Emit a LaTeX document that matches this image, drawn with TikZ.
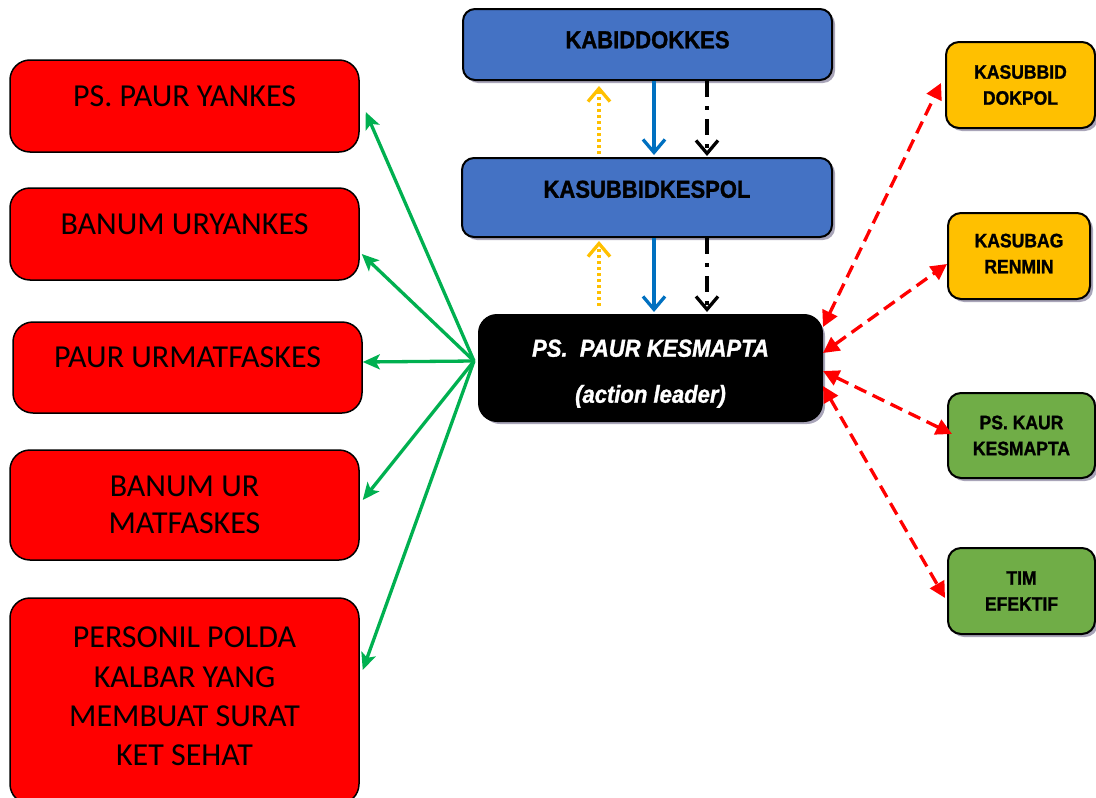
\documentclass[tikz,border=0pt]{standalone}
\usepackage{fontspec}
\setmainfont{Carlito}
\newfontfamily\arialn[FakeStretch=0.9,BoldFeatures={FakeBold=1.2},BoldItalicFeatures={FakeBold=1.2}]{Liberation Sans}
\usetikzlibrary{arrows.meta,shadows,calc}
\definecolor{boxblue}{HTML}{4472C4}
\definecolor{boxyellow}{HTML}{FFC000}
\definecolor{boxgreen}{HTML}{70AD47}
\definecolor{arrgreen}{HTML}{00B050}
\definecolor{arrblue}{HTML}{0070C0}
\definecolor{arryellow}{HTML}{FFC000}
\definecolor{shadowc}{HTML}{A9A5B9}
\definecolor{redfill}{HTML}{FF0000}
\begin{document}
\begin{tikzpicture}[x=1pt,y=-1pt,
  shad/.style={drop shadow={shadow xshift=3pt,shadow yshift=-3pt,fill=shadowc,opacity=1}},
  redbox/.style={draw=black,line width=1.5pt,fill=redfill,rounded corners=20pt,
    minimum width=349pt,inner sep=0pt,font=\fontsize{32}{39.3}\selectfont},
  oneline/.style={text height=20.5pt,text depth=20pt},
  bluebox/.style={draw=black,line width=2pt,fill=boxblue,rounded corners=12pt,shad,
    inner sep=0pt,font=\arialn\bfseries\fontsize{24.5}{28}\selectfont},
  sidebox/.style={draw=black,line width=2pt,rounded corners=13pt,shad,inner sep=0pt,
    align=center,minimum width=147pt,minimum height=86pt,
    font=\arialn\bfseries\fontsize{19.5}{26}\selectfont},
  leadbox/.style={draw=black,line width=2pt,fill=black,rounded corners=18pt,shad,inner sep=0pt,
    align=center,text=white,font=\arialn\bfseries\itshape\fontsize{24.5}{46}\selectfont},
  greenarr/.style={draw=arrgreen,line width=3.3pt,-{Stealth[length=17pt,width=15pt,inset=4pt]}},
  redarr/.style={draw=redfill,line width=3.3pt,dash pattern=on 13pt off 7pt,
    {Triangle[length=16pt,width=16pt]}-{Triangle[length=16pt,width=16pt]}},
  yelarr/.style={draw=arryellow,line width=3.3pt,dash pattern=on 3pt off 3pt,
    -{Straight Barb[length=13pt,width=22pt]}},
  bluearr/.style={draw=arrblue,line width=3.3pt,-{Straight Barb[length=13pt,width=22pt]}},
  blkarr/.style={draw=black,line width=3.3pt,dash pattern=on 16pt off 9pt on 4pt off 9pt,
    -{Straight Barb[length=13pt,width=22pt]}}
]
\useasboundingbox (0,0) rectangle (1096,798);

% central column
\node[bluebox,minimum width=369pt,minimum height=71pt,text height=17.5pt,text depth=10pt]
  (kabid) at (647.5,44.5) {KABIDDOKKES};
\node[bluebox,minimum width=370pt,minimum height=79pt,text height=17.5pt,text depth=17pt]
  (kasub) at (647,197.5) {KASUBBIDKESPOL};
\node[leadbox,minimum width=343pt,minimum height=106pt]
  (paur) at (650.5,368) {\rule{0pt}{28.5pt}PS.~~PAUR KESMAPTA\\(action leader)};

% right column
\node[sidebox,fill=boxyellow,minimum width=149pt] (dokpol) at (1020.5,85) {KASUBBID\\DOKPOL};
\node[sidebox,fill=boxyellow,minimum width=142pt] (renmin) at (1019,256) {KASUBAG\\RENMIN\rule[-5pt]{0pt}{5pt}};
\node[sidebox,fill=boxgreen,minimum height=85pt] (kaur) at (1021.5,435.5) {PS. KAUR\\KESMAPTA};
\node[sidebox,fill=boxgreen] (tim) at (1021.5,591) {TIM\\EFEKTIF};

% left column
\node[redbox,oneline,minimum height=92pt] (yankes) at (184.5,106) {PS. PAUR YANKES};
\node[redbox,oneline,minimum height=92pt] (uryankes) at (184.5,234) {BANUM URYANKES};
\node[redbox,oneline,minimum height=91pt,text depth=21pt] (urmat) at (187.5,367.5) {PAUR URMATFASKES};
\node[redbox,align=center,minimum height=110pt,font=\fontsize{32}{37.5}\selectfont] (banum) at (184.5,505) {BANUM UR\\MATFASKES};
\node[redbox,align=center,minimum height=206pt] (personil) at (184.5,701)
  {PERSONIL POLDA\\KALBAR YANG\\MEMBUAT SURAT\\KET SEHAT\rule[-9pt]{0pt}{9pt}};

% vertical arrows
\draw[yelarr] ([xshift=-48pt,yshift=3pt]kasub.north) -- ([xshift=-48.5pt,yshift=-5pt]kabid.south);
\draw[bluearr] ([xshift=6.5pt]kabid.south) -- ([xshift=7pt,yshift=2pt]kasub.north);
\draw[blkarr] ([xshift=59.5pt]kabid.south) -- ([xshift=60pt,yshift=1pt]kasub.north);
\draw[yelarr] ([xshift=-51.5pt,yshift=8pt]paur.north) -- ([xshift=-48pt,yshift=-3pt]kasub.south);
\draw[bluearr] ([xshift=7pt]kasub.south) -- ([xshift=3.5pt,yshift=2pt]paur.north);
\draw[blkarr] ([xshift=60pt]kasub.south) -- ([xshift=56.5pt,yshift=2pt]paur.north);

% green arrows
\coordinate (hub) at ($(paur.west)+(-4,-7)$);
\draw[greenarr] (hub) -- ([xshift=6pt,yshift=-6pt]yankes.east);
\draw[greenarr] (hub) -- ([xshift=2pt,yshift=-20pt]uryankes.east);
\draw[greenarr] (hub) -- ([yshift=5.5pt]urmat.east);
\draw[greenarr] (hub) -- ([xshift=3pt,yshift=5pt]banum.east);
\draw[greenarr] (hub) -- ([xshift=3pt,yshift=31pt]personil.east);

% red arrows
\draw[redarr] ([yshift=41pt]paur.east) -- ([xshift=-4pt,yshift=2pt]dokpol.west);
\draw[redarr] ([yshift=15pt]paur.east) -- ([yshift=-8pt]renmin.west);
\draw[redarr] ([yshift=-3pt]paur.east) -- ([xshift=5pt,yshift=1.5pt]kaur.west);
\draw[redarr] ([yshift=-18pt]paur.east) -- ([xshift=-2pt,yshift=-7pt]tim.west);
\end{tikzpicture}
\end{document}
